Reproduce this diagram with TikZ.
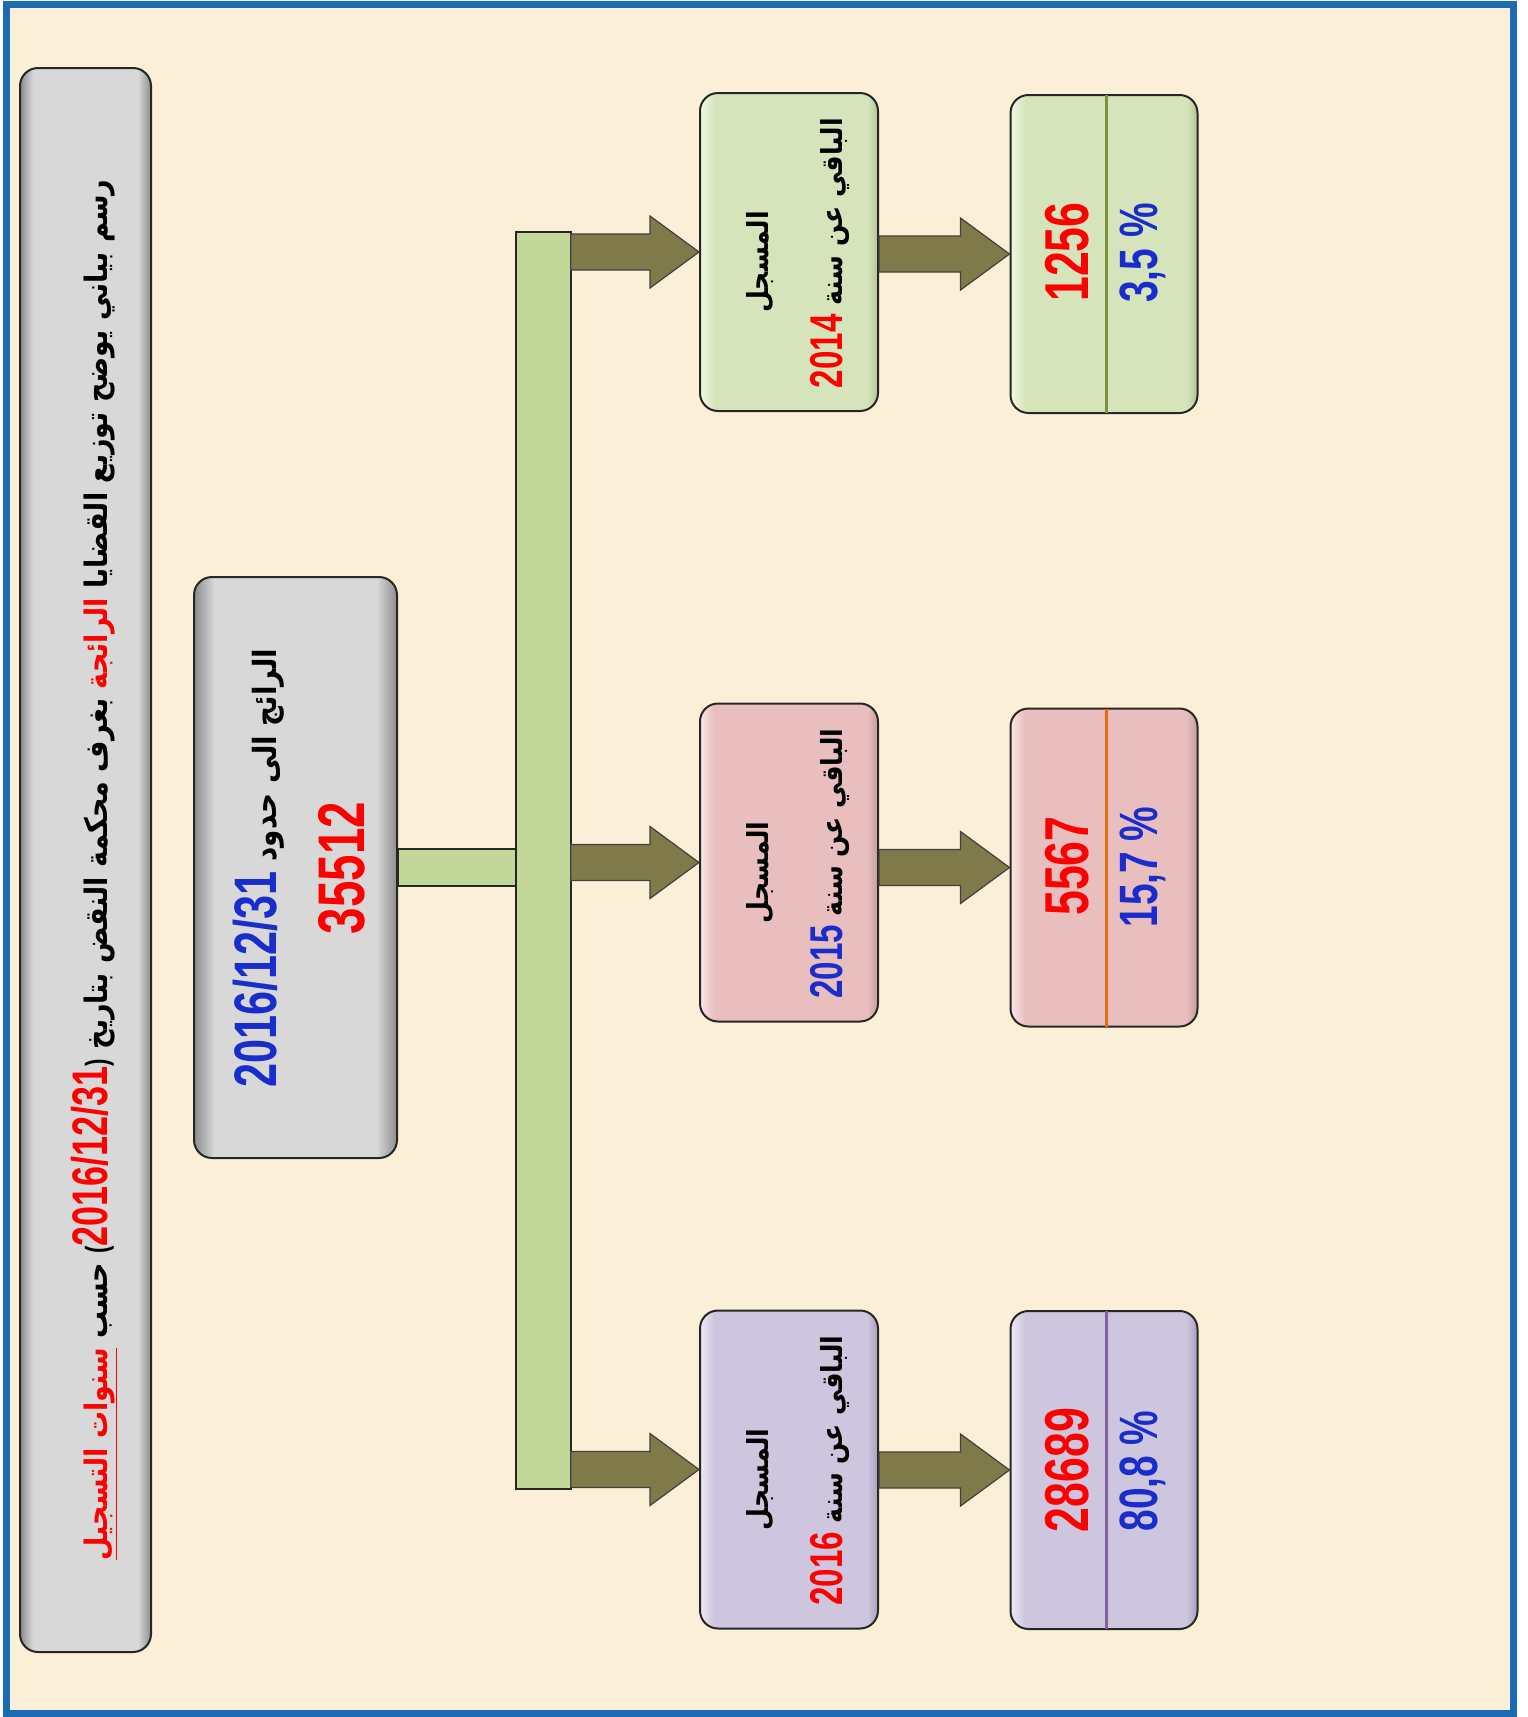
\documentclass[tikz,border=0pt]{standalone}
\usepackage{fontspec}
\usetikzlibrary{calc}
\TeXXeTstate=1
\newfontfamily\arabicfont[Script=Arabic,FakeStretch=0.87]{DejaVu Sans}
\newfontfamily\numfont[FakeStretch=0.72]{Liberation Sans}
\definecolor{parch}{RGB}{251,240,215}
\definecolor{frameblue}{RGB}{28,108,180}
\definecolor{bargreen}{RGB}{196,215,155}
\definecolor{arrolive}{RGB}{128,122,74}
\definecolor{txtred}{RGB}{255,0,0}
\definecolor{txtblue}{RGB}{25,45,205}
\definecolor{grayedge}{RGB}{140,140,140}
\definecolor{graymid}{RGB}{216,216,216}
\definecolor{glight}{RGB}{242,248,228}
\definecolor{gbase}{RGB}{214,228,188}
\definecolor{gdark}{RGB}{180,196,150}
\definecolor{plight}{RGB}{250,232,232}
\definecolor{pbase}{RGB}{232,190,190}
\definecolor{pdark}{RGB}{196,155,155}
\definecolor{llight}{RGB}{238,234,246}
\definecolor{lbase}{RGB}{206,197,222}
\definecolor{ldark}{RGB}{168,158,190}
\definecolor{divgreen}{RGB}{119,147,60}
\definecolor{divorange}{RGB}{228,108,10}
\definecolor{divpurple}{RGB}{128,100,162}
\pgfdeclarehorizontalshading{grayshade}{100bp}{color(0bp)=(grayedge); color(25bp)=(grayedge); color(30bp)=(graymid); color(70bp)=(graymid); color(75bp)=(grayedge); color(100bp)=(grayedge)}
\pgfdeclarehorizontalshading{greenshade}{100bp}{color(0bp)=(glight); color(25bp)=(glight); color(29bp)=(gbase); color(72bp)=(gbase); color(75bp)=(gdark); color(100bp)=(gdark)}
\pgfdeclarehorizontalshading{pinkshade}{100bp}{color(0bp)=(plight); color(25bp)=(plight); color(29bp)=(pbase); color(72bp)=(pbase); color(75bp)=(pdark); color(100bp)=(pdark)}
\pgfdeclarehorizontalshading{lavshade}{100bp}{color(0bp)=(llight); color(25bp)=(llight); color(29bp)=(lbase); color(72bp)=(lbase); color(75bp)=(ldark); color(100bp)=(ldark)}
\tikzset{
  boxbase/.style={draw=black!85, line width=2pt, rounded corners=18pt, inner sep=0pt, shade},
  graybox/.style={boxbase, shading=grayshade},
  greenbox/.style={boxbase, shading=greenshade},
  pinkbox/.style={boxbase, shading=pinkshade},
  lavbox/.style={boxbase, shading=lavshade},
  txt/.style={rotate=90, inner sep=0pt, anchor=center},
  ar/.style={txt, font=\arabicfont\bfseries\fontsize{#1}{#1}\selectfont},
  num/.style={txt, font=\numfont\bfseries\fontsize{#1}{#1}\selectfont},
  barnode/.style={fill=bargreen, draw=black!85, line width=1.6pt, inner sep=0pt},
  barstyle/.style={fill=bargreen, draw=black!85, line width=1.6pt},
  blockarr/.style={fill=arrolive, draw=black!75, line width=1.2pt, line join=miter},
  divline/.style={line width=3pt, shorten <=1pt, shorten >=1pt}
}
% coloured pieces inside right-to-left text are kept in left-to-right segments
\newcommand{\numtxt}[3]{\beginL{\numfont\bfseries\fontsize{#1}{#1}\selectfont\color{#2}#3}\endL}
\newcommand{\redword}[1]{\beginL{\color{txtred}#1}\endL}
\newcommand{\blockarrow}[2]{%
  \draw[blockarr] let \p1=(#1.east |- #2.west), \p2=(#2.west) in
    (\x1,\y1+18pt) -- (\x2-49pt,\y1+18pt) -- (\x2-49pt,\y1+36pt) -- (\x2,\y1)
    -- (\x2-49pt,\y1-36pt) -- (\x2-49pt,\y1-18pt) -- (\x1,\y1-18pt) -- cycle;}
\begin{document}
\begin{tikzpicture}[x=1pt,y=-1pt]
\useasboundingbox (0,0) rectangle (1527,1717);
\fill[white] (0,0) rectangle (1527,1717);
\fill[parch] (6.5,4.5) rectangle (1513.5,1713);
\draw[frameblue, line width=7pt] (6.5,4.5) rectangle (1513.5,1713);

% boxes
\node[graybox, minimum width=131pt, minimum height=1584pt] (title) at (85.5,860) {};
\node[graybox, minimum width=203pt, minimum height=581pt] (midbox) at (295.5,867.5) {};

% connector and bar
\node[barnode, minimum width=53pt, minimum height=1255pt] (bar) at (543.5,860.5) {};
\draw[barstyle] let \p1=(midbox.east), \p2=(bar.west) in
  (\x1,\y1+18.5pt) rectangle (\x2,\y1-18.5pt);
\draw[barstyle] (bar.north west) rectangle (bar.south east);

\node[greenbox, minimum width=178pt, minimum height=318pt] (y1) at (789,252) {};
\node[pinkbox,  minimum width=178pt, minimum height=318pt] (y2) at (789,862.5) {};
\node[lavbox,   minimum width=178pt, minimum height=318pt] (y3) at (789,1469.5) {};

\node[greenbox, minimum width=187pt, minimum height=318pt] (v1) at (1104,254) {};
\node[pinkbox,  minimum width=187pt, minimum height=318pt] (v2) at (1104,867.5) {};
\node[lavbox,   minimum width=187pt, minimum height=318pt] (v3) at (1104,1470) {};

\draw[divline, divgreen]  ($(v1.north)+(2,0)$) -- ($(v1.south)+(2,0)$);
\draw[divline, divorange] ($(v2.north)+(2,0)$) -- ($(v2.south)+(2,0)$);
\draw[divline, divpurple] ($(v3.north)+(2,0)$) -- ($(v3.south)+(2,0)$);

% arrows
\blockarrow{bar}{y1}
\blockarrow{bar}{y2}
\blockarrow{bar}{y3}
\blockarrow{y1}{v1}
\blockarrow{y2}{v2}
\blockarrow{y3}{v3}

% texts
\node[ar=31] (titletxt) at (94,870) {\beginR رسم بياني يوضح توزيع القضايا \redword{الرائجة} بغرف محكمة النقض بتاريخ \beginL{\numfont(}{\numfont\bfseries\fontsize{50}{50}\selectfont\color{txtred}2016/12/31}{\numfont)}\endL{} حسب \redword{\underline{\beginR سنوات التسجيل\endR}}\endR};

\node[ar=32] (midl1) at (259,868) {\beginR الرائج الى حدود \numtxt{60}{txtblue}{2016/12/31}\endR};
\node[num=66] (midl2) at (342,868) {\color{txtred}35512};

\node[ar=29] (y1a) at (760,262) {المسجل};
\node[ar=29] (y1b) at (830,253) {\beginR الباقي عن سنة \numtxt{46}{txtred}{2014}\endR};
\node[ar=29] (y2a) at (760,872.5) {المسجل};
\node[ar=29] (y2b) at (830,863.5) {\beginR الباقي عن سنة \numtxt{46}{txtblue}{2015}\endR};
\node[ar=29] (y3a) at (760,1479.5) {المسجل};
\node[ar=29] (y3b) at (830,1470.5) {\beginR الباقي عن سنة \numtxt{46}{txtred}{2016}\endR};

\node[num=62] (v1n) at (1067,252) {\color{txtred}1256};
\node[num=54] (v1p) at (1143,253) {\color{txtblue}3,5 \%};
\node[num=62] (v2n) at (1067,866) {\color{txtred}5567};
\node[num=54] (v2p) at (1143,867) {\color{txtblue}15,7 \%};
\node[num=62] (v3n) at (1067,1470) {\color{txtred}28689};
\node[num=54] (v3p) at (1143,1471) {\color{txtblue}80,8 \%};
\end{tikzpicture}
\end{document}
